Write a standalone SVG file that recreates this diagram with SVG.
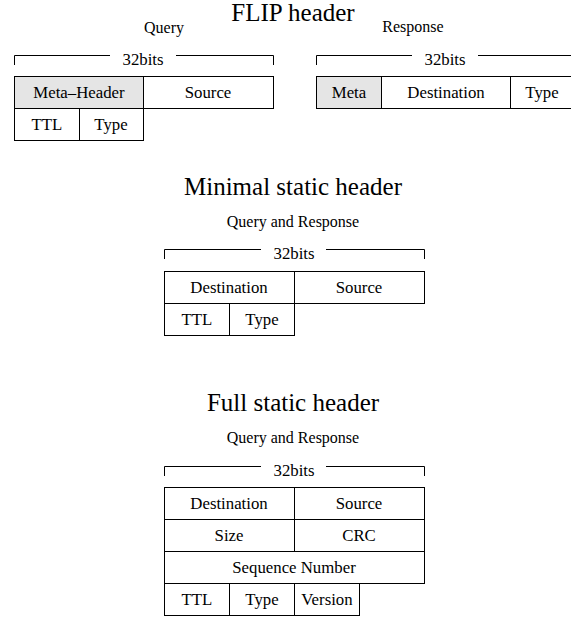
<svg xmlns="http://www.w3.org/2000/svg" width="571" height="617" viewBox="0 0 571 617">
  <style>
    .cell { fill: #ffffff; stroke: #000000; stroke-width: 1; }
    .meta { fill: #e5e5e5; stroke: #000000; stroke-width: 1; }
    .brace { fill: none; stroke: #000000; stroke-width: 1; }
    text { fill: #000000; text-anchor: middle; }
    .title { font-family: "Liberation Serif", "Times New Roman", serif; font-size: 25px; }
    .small { font-family: "Liberation Serif", "Times New Roman", serif; font-size: 16.8px; }
    .label { font-family: "Liberation Serif", "Times New Roman", serif; font-size: 16px; }
  </style>
  <rect width="571" height="617" fill="#ffffff"/>

  <!-- FLIP header -->
  <g id="flip-title">
    <text class="title" x="293" y="21">FLIP header</text>
  </g>

  <g id="flip-query">
    <text class="label" x="164" y="33">Query</text>
    <path class="brace" d="M14.5,65 V55.5 H110 M176,55.5 H273.5 V65"/>
    <text class="small" x="143" y="65">32bits</text>
    <g id="flip-query-meta-header">
      <rect class="meta" x="14.5" y="76.5" width="129" height="32"/>
      <text class="small" x="79" y="98">Meta–Header</text>
    </g>
    <g id="flip-query-source">
      <rect class="cell" x="143.5" y="76.5" width="130" height="32"/>
      <text class="small" x="208" y="98">Source</text>
    </g>
    <g id="flip-query-ttl">
      <rect class="cell" x="14.5" y="108.5" width="65" height="32"/>
      <text class="small" x="47" y="130">TTL</text>
    </g>
    <g id="flip-query-type">
      <rect class="cell" x="79.5" y="108.5" width="64" height="32"/>
      <text class="small" x="111" y="130">Type</text>
    </g>
  </g>

  <g id="flip-response">
    <text class="label" x="413" y="32">Response</text>
    <path class="brace" d="M316.5,65 V55.5 H412 M478,55.5 H576"/>
    <text class="small" x="445" y="65">32bits</text>
    <g id="flip-response-meta">
      <rect class="meta" x="316.5" y="76.5" width="65" height="32"/>
      <text class="small" x="349" y="98">Meta</text>
    </g>
    <g id="flip-response-destination">
      <rect class="cell" x="381.5" y="76.5" width="129" height="32"/>
      <text class="small" x="446" y="98">Destination</text>
    </g>
    <g id="flip-response-type">
      <rect class="cell" x="510.5" y="76.5" width="64" height="32"/>
      <text class="small" x="542" y="98">Type</text>
    </g>
  </g>

  <!-- Minimal static header -->
  <g id="minimal-header">
    <text class="title" x="293" y="195">Minimal static header</text>
    <text class="label" x="293" y="227">Query and Response</text>
    <path class="brace" d="M164.5,259 V249.5 H261 M326,249.5 H424.5 V259"/>
    <text class="small" x="294" y="259">32bits</text>
    <g id="minimal-destination">
      <rect class="cell" x="164.5" y="271.5" width="130" height="32"/>
      <text class="small" x="229" y="293">Destination</text>
    </g>
    <g id="minimal-source">
      <rect class="cell" x="294.5" y="271.5" width="130" height="32"/>
      <text class="small" x="359" y="293">Source</text>
    </g>
    <g id="minimal-ttl">
      <rect class="cell" x="164.5" y="303.5" width="65" height="32"/>
      <text class="small" x="197" y="325">TTL</text>
    </g>
    <g id="minimal-type">
      <rect class="cell" x="229.5" y="303.5" width="65" height="32"/>
      <text class="small" x="262" y="325">Type</text>
    </g>
  </g>

  <!-- Full static header -->
  <g id="full-header">
    <text class="title" x="293" y="411">Full static header</text>
    <text class="label" x="293" y="443">Query and Response</text>
    <path class="brace" d="M164.5,476 V466.5 H261 M326,466.5 H424.5 V476"/>
    <text class="small" x="294" y="476">32bits</text>
    <g id="full-destination">
      <rect class="cell" x="164.5" y="487.5" width="130" height="32"/>
      <text class="small" x="229" y="509">Destination</text>
    </g>
    <g id="full-source">
      <rect class="cell" x="294.5" y="487.5" width="130" height="32"/>
      <text class="small" x="359" y="509">Source</text>
    </g>
    <g id="full-size">
      <rect class="cell" x="164.5" y="519.5" width="130" height="32"/>
      <text class="small" x="229" y="541">Size</text>
    </g>
    <g id="full-crc">
      <rect class="cell" x="294.5" y="519.5" width="130" height="32"/>
      <text class="small" x="359" y="541">CRC</text>
    </g>
    <g id="full-sequence-number">
      <rect class="cell" x="164.5" y="551.5" width="260" height="32"/>
      <text class="small" x="294" y="573">Sequence Number</text>
    </g>
    <g id="full-ttl">
      <rect class="cell" x="164.5" y="583.5" width="65" height="32"/>
      <text class="small" x="197" y="605">TTL</text>
    </g>
    <g id="full-type">
      <rect class="cell" x="229.5" y="583.5" width="65" height="32"/>
      <text class="small" x="262" y="605">Type</text>
    </g>
    <g id="full-version">
      <rect class="cell" x="294.5" y="583.5" width="65" height="32"/>
      <text class="small" x="327" y="605">Version</text>
    </g>
  </g>
</svg>
